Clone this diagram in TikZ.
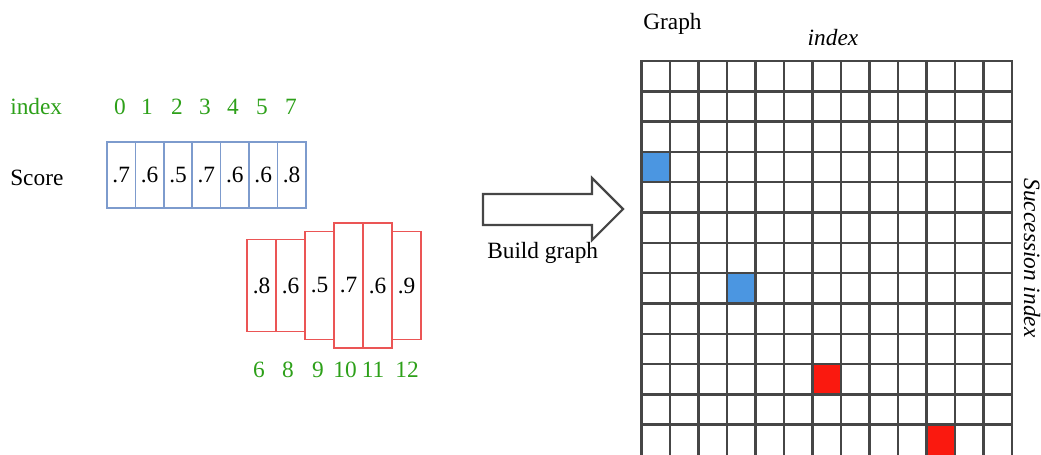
\documentclass[tikz,border=0pt]{standalone}
\usepackage{fontspec}
\setmainfont{Liberation Serif}
\usetikzlibrary{positioning}

\definecolor{idxgreen}{RGB}{45,160,25}
\definecolor{boxblue}{RGB}{125,155,205}
\definecolor{boxred}{RGB}{235,85,85}
\definecolor{cellblue}{RGB}{75,150,225}
\definecolor{cellred}{RGB}{250,25,15}
\definecolor{gridgray}{RGB}{70,70,70}

\tikzset{
  txt/.style={inner sep=0pt,font=\fontsize{17.5}{20}\selectfont},
  idx/.style={txt,text=idxgreen},
  scorebox/.style={draw=boxblue,line width=1.3pt,minimum width=21.3pt,minimum height=49.5pt,inner sep=0pt,outer sep=0pt,font=\fontsize{17.5}{20}\selectfont},
  succbox/.style={draw=boxred,line width=1.3pt,minimum width=21.75pt,inner sep=0pt,outer sep=0pt,font=\fontsize{17.5}{20}\selectfont},
}

\begin{document}
\begin{tikzpicture}[x=0.75pt,y=0.75pt,yscale=-1,xscale=1]
    \useasboundingbox (0,0) rectangle (1041,454);

    % Text Node
    \node [idx,anchor=west] (idxlbl) at (10,107) {index};
    % Text Node
    \node [txt,anchor=west] (scorelbl) at (10,178) {Score};

    %Score boxes (blue)
    \foreach \v [count=\i from 0] in {.7,.6,.5,.7,.6,.6,.8}
      \node [scorebox] (s\i) at ({121.2+28.4*\i},175) {\v};
    %index numbers above
    \foreach \n/\x [count=\i from 0] in {0/120,1/147,2/177,3/205,4/233,5/262,7/291}
      \node [idx] (t\i) at (\x,107) {\n};

    %Succession boxes (red)
    \foreach \v/\h [count=\i from 0] in {.8/92,.6/92,.5/108,.7/125,.6/125,.9/108}
      \node [succbox,minimum height=\h*0.75pt] (r\i) at ({261.5+29*\i},285.5) {\v};
    %index numbers below
    \foreach \n/\x [count=\i from 0] in {6/259,8/288,9/318,10/345,11/373,12/407}
      \node [idx] (b\i) at (\x,370) {\n};

    %Shape: block arrow
    \draw [draw=gridgray,line width=1.6pt,line join=miter] (483,194) -- (592,194) -- (592,178) -- (623,209) -- (592,240) -- (592,225) -- (483,225) -- cycle ;
    % Text Node
    \node [txt,anchor=west] (build) at (487,253) {Build graph};

    %Graph
    \node [txt,anchor=base west] (graph) at (643,29) {Graph};
    \node [txt,anchor=base,font=\fontsize{17.5}{20}\selectfont\itshape] (colidx) at (833,45) {index};
    \node [txt,anchor=base,rotate=-90,font=\fontsize{17.5}{20}\selectfont\itshape] (rowidx) at (1024,258) {Succession index};

    %marked cells
    \fill [cellblue] (641.5,151) rectangle ++(28.5,30.3);
    \fill [cellblue] ({641.5+3*28.5},{61+7*30.3}) rectangle ++(28.5,30.3);
    \fill [cellred] ({641.5+6*28.5},{61+10*30.3}) rectangle ++(28.5,30.3);
    \fill [cellred] ({641.5+10*28.5},{61+12*30.3}) rectangle ++(28.5,30.3);

    %grid lines
    \begin{scope}[draw=gridgray,line width=1.8pt]
      \clip (600,0) rectangle (1041,454);
      \foreach \c in {0,...,13}
        \draw ({641.5+28.5*\c},60.3) -- ({641.5+28.5*\c},470);
      \foreach \r in {0,...,12}
        \draw (640.8,{61+30.3*\r}) -- (1012.7,{61+30.3*\r});
    \end{scope}

\end{tikzpicture}
\end{document}
